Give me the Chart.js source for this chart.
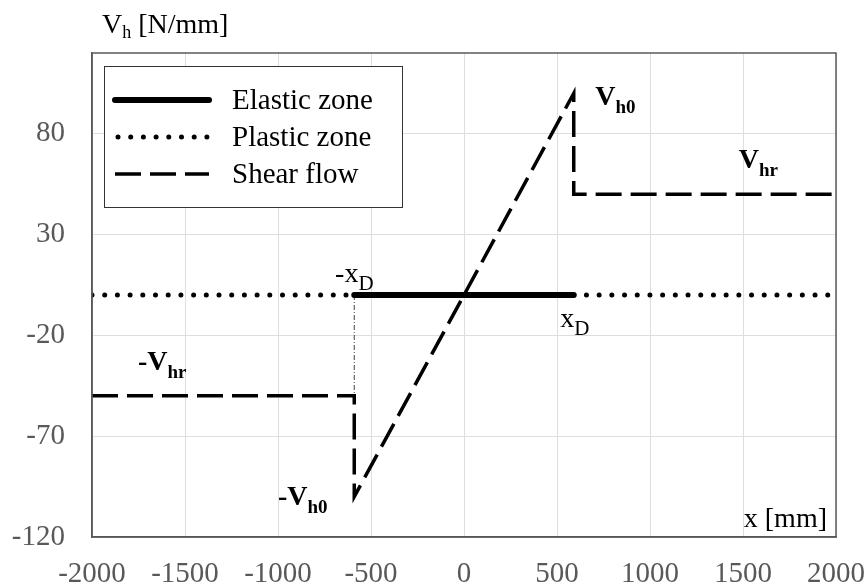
<!DOCTYPE html>
<html>
<head>
<meta charset="utf-8">
<script src="https://cdn.jsdelivr.net/npm/chart.js@4.4.0/dist/chart.umd.min.js"></script>
<style>
html, body { margin: 0; padding: 0; background: #fff; }
#wrap { width: 867px; height: 587px; }
</style>
</head>
<body>
<div id="wrap"><canvas id="shearChart" width="867" height="587"></canvas></div>
<script>
// values
var elasticX = [-590, 590];
var elasticY = [0, 0];
var plasticX = [-2000, -590, 0, 590, 2000];
var plasticY = [0, 0, null, 0, 0];
var shearX = [-2000, -590, -590, 590, 590, 2000];
var shearY = [-50, -50, -100, 100, 50, 50];
var guideX = [-590, -590];
var guideY = [0, -50];

var yTicks = [-120, -70, -20, 30, 80];
var xMin = -2000, xMax = 2000, xStep = 500;
var yMin = -120, yMax = 120;

var seriesNames = ["Elastic zone", "Plastic zone", "Shear flow"];

// text notes: main, subscript, x, y (data units), bold
var notes = [
    ["-x", "D", -693, 6.6, false],
    ["x", "D", 518, -16, false],
    ["V", "h0", 706, 94, true],
    ["V", "hr", 1477, 63, true],
    ["-V", "hr", -1753, -37, true],
    ["-V", "h0", -1000, -104, true]
];

var serif = '"Liberation Serif", "Times New Roman", serif';
var tickGray = '#595959';

function pts(xs, ys) {
    var out = [];
    for (var i = 0; i < xs.length; i++) {
        out.push({x: xs[i], y: ys[i]});
    }
    return out;
}

function drawSub(ctx, x, y, main, sub, size, subSize, bold, drop, tail) {
    var w = bold ? 'bold ' : '';
    ctx.font = w + size + 'px ' + serif;
    ctx.fillText(main, x, y);
    x += ctx.measureText(main).width;
    ctx.font = w + subSize + 'px ' + serif;
    ctx.fillText(sub, x, y + drop);
    x += ctx.measureText(sub).width;
    if (tail) {
        ctx.font = size + 'px ' + serif;
        ctx.fillText(tail, x, y);
    }
}

var extras = {
    id: 'extras',
    afterDraw: function(chart) {
        var ctx = chart.ctx;
        var a = chart.chartArea;
        var xs = chart.scales.x, ys = chart.scales.y;
        ctx.save();

        // frame
        ctx.strokeStyle = tickGray;
        ctx.lineWidth = 1.5;
        ctx.strokeRect(a.left, a.top, a.right - a.left, a.bottom - a.top);

        // legend box
        var lx = a.left + 12, ly = a.top + 13;
        ctx.fillStyle = '#fff';
        ctx.fillRect(lx, ly, 298, 141);
        ctx.strokeStyle = '#333';
        ctx.lineWidth = 1;
        ctx.strokeRect(lx + 0.5, ly + 0.5, 298, 141);
        for (var i = 0; i < 3; i++) {
            var ds = chart.data.datasets[i];
            var ry = ly + 34 + i * 37;
            ctx.beginPath();
            ctx.strokeStyle = ds.borderColor;
            ctx.lineWidth = ds.borderWidth;
            ctx.lineCap = ds.borderCapStyle || 'butt';
            ctx.setLineDash(ds.borderDash || []);
            ctx.lineDashOffset = i == 1 ? -3 : 0;
            ctx.moveTo(lx + 11, ry);
            ctx.lineTo(lx + 105, ry);
            ctx.stroke();
            ctx.setLineDash([]);
            ctx.fillStyle = '#000';
            ctx.font = '29px ' + serif;
            ctx.textBaseline = 'middle';
            ctx.textAlign = 'left';
            ctx.fillText(seriesNames[i], lx + 128, ry + 1);
        }

        // notes on the curve
        ctx.fillStyle = '#000';
        ctx.textBaseline = 'alphabetic';
        notes.forEach(function(n) {
            var px = xs.getPixelForValue(n[2]);
            var py = ys.getPixelForValue(n[3]);
            if (n[4]) {
                drawSub(ctx, px, py, n[0], n[1], 28, 19, true, 8);
            } else {
                drawSub(ctx, px, py, n[0], n[1], 28, 21, false, 8);
            }
        });

        // axis titles
        drawSub(ctx, 102, 33, 'V', 'h', 28, 18, false, 5, ' [N/mm]');
        ctx.font = '28px ' + serif;
        ctx.textAlign = 'right';
        ctx.fillText('x [mm]', a.right - 9, a.bottom - 10);
        ctx.restore();
    }
};

var ctx = document.getElementById('shearChart').getContext('2d');

var shearChart = new Chart(ctx, {
    type: 'line',
    data: {
        datasets: [
            {
                label: seriesNames[0],
                data: pts(elasticX, elasticY),
                borderColor: '#000',
                borderWidth: 6,
                borderCapStyle: 'round',
                pointRadius: 0,
                fill: false
            },
            {
                label: seriesNames[1],
                data: pts(plasticX, plasticY),
                borderColor: '#000',
                borderWidth: 5,
                borderCapStyle: 'round',
                borderDash: [0, 12.7],
                pointRadius: 0,
                spanGaps: false,
                fill: false
            },
            {
                label: seriesNames[2],
                data: pts(shearX, shearY),
                borderColor: '#000',
                borderWidth: 3.5,
                borderDash: [26, 9],
                borderJoinStyle: 'miter',
                pointRadius: 0,
                fill: false
            },
            {
                label: '',
                data: pts(guideX, guideY),
                borderColor: '#444',
                borderWidth: 1,
                borderDash: [5, 2, 1, 2],
                pointRadius: 0,
                fill: false
            }
        ]
    },
    options: {
        responsive: false,
        animation: false,
        layout: { padding: { top: 53, right: 31, left: 0, bottom: 0 } },
        plugins: {
            legend: { display: false },
            tooltip: { enabled: false }
        },
        elements: { line: { tension: 0 } },
        scales: {
            x: {
                type: 'linear',
                min: xMin,
                max: xMax,
                ticks: {
                    stepSize: xStep,
                    color: tickGray,
                    font: { family: serif, size: 29 },
                    padding: 20,
                    maxRotation: 0,
                    callback: function(v) { return String(v); }
                },
                grid: { color: '#dedede', drawTicks: false },
                border: { color: tickGray, width: 1.5 },
                afterFit: function(s) {
                    s.height = 50;
                    s.paddingLeft = 0;
                    s.paddingRight = 0;
                }
            },
            y: {
                type: 'linear',
                min: yMin,
                max: yMax,
                afterBuildTicks: function(s) {
                    s.ticks = yTicks.map(function(v) { return {value: v}; });
                },
                ticks: {
                    color: tickGray,
                    font: { family: serif, size: 29 },
                    padding: 27
                },
                grid: { color: '#dedede', drawTicks: false },
                border: { color: tickGray, width: 1.5 },
                afterFit: function(s) {
                    s.width = 92;
                    s.paddingTop = 0;
                    s.paddingBottom = 0;
                }
            }
        }
    },
    plugins: [extras]
});
</script>
</body>
</html>
